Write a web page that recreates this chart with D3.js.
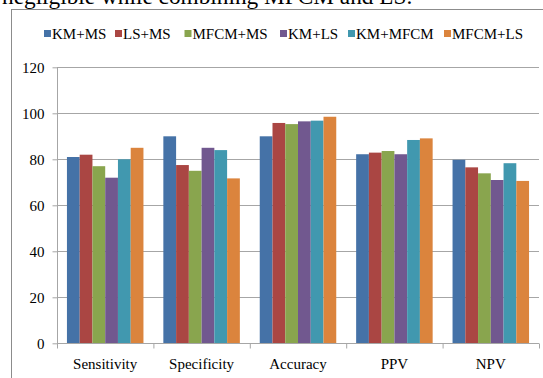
<!DOCTYPE html>
<html>
<head>
<meta charset="utf-8">
<script src="https://cdn.jsdelivr.net/npm/d3@7"></script>
<style>
  body { margin: 0; background: #fff; }
  text { font-family: "Liberation Serif", "Times New Roman", serif; fill: #000; }
</style>
</head>
<body>
<script>
// measures on the x axis, one group of bars each
const categories = ["Sensitivity", "Specificity", "Accuracy", "PPV", "NPV"];
const seriesNames = ["KM+MS", "LS+MS", "MFCM+MS", "KM+LS", "KM+MFCM", "MFCM+LS"];
const colors = ["#4572A7", "#AA4643", "#89A54E", "#71588F", "#4198AF", "#DB843D"];

// values, one array per series
const kmMs     = [81, 90, 90, 82.2, 79.8];
const lsMs     = [82, 77.5, 95.8, 82.9, 76.5];
const mfcmMs   = [77, 75, 95.3, 83.6, 73.9];
const kmLs     = [72, 85, 96.5, 82.2, 71];
const kmMfcm   = [80, 84, 96.8, 88.4, 78.3];
const mfcmLs   = [85, 71.7, 98.5, 89.1, 70.6];
const yTicks = [0, 20, 40, 60, 80, 100, 120];

const allSeries = [kmMs, lsMs, mfcmMs, kmLs, kmMfcm, mfcmLs];

let w = 543;
let h = 378;

const svg = d3.select("body")
  .append("svg")
  .attr("width", w)
  .attr("height", h);

// caption text cut off by the top of the picture
svg.append("text")
  .attr("x", 2)
  .attr("y", 4)
  .style("font-size", "23.3px")
  .text("negligible while combining MFCM and LS.");

// chart frame (right and bottom edges fall outside the picture)
svg.append("rect")
  .attr("x", 11.5)
  .attr("y", 9.5)
  .attr("width", 540)
  .attr("height", 380)
  .attr("fill", "none")
  .attr("stroke", "#8c8c8c");

const x0 = d3.scaleBand()
  .domain(categories)
  .range([57, 539]);

const x1 = d3.scaleBand()
  .domain(seriesNames)
  .range([0, x0.bandwidth()])
  .paddingOuter(0.78);

const yScale = d3.scaleLinear()
  .domain([0, 120])
  .range([343.3, 67.3]);

// gridlines
svg.append("g")
  .selectAll("line")
  .data(yTicks.slice(1))
  .enter()
  .append("line")
  .attr("x1", 57)
  .attr("x2", 539)
  .attr("y1", d => Math.round(yScale(d)) + 0.5)
  .attr("y2", d => Math.round(yScale(d)) + 0.5)
  .attr("stroke", "#a6a6a6");

// bars
svg.append("g")
  .selectAll("g")
  .data(allSeries)
  .enter()
  .append("g")
  .attr("fill", (d, i) => colors[i])
  .each(function (vals, si) {
    d3.select(this).selectAll("rect")
      .data(vals)
      .enter()
      .append("rect")
      .attr("x", (d, ci) => x0(categories[ci]) + x1(seriesNames[si]))
      .attr("width", x1.bandwidth())
      .attr("y", d => yScale(d))
      .attr("height", d => yScale(0) - yScale(d));
  });

// y axis
const yAxis = d3.axisLeft(yScale)
  .tickValues(yTicks)
  .tickSize(5)
  .tickPadding(8);

const gy = svg.append("g")
  .attr("transform", "translate(57.5,0)")
  .call(yAxis);
gy.selectAll("line, path").attr("stroke", "#a6a6a6");
gy.select(".domain").attr("d", "M0," + yScale(120) + "V" + yScale(0));
gy.selectAll("text")
  .style("font-family", "Liberation Serif, serif")
  .style("font-size", "15px");

// x axis
const xAxis = d3.axisBottom(d3.scaleLinear().domain([0, 5]).range([57, 539]))
  .tickValues([0, 1, 2, 3, 4, 5])
  .tickSize(5)
  .tickFormat("");

const gx = svg.append("g")
  .attr("transform", "translate(0," + (Math.round(yScale(0)) + 0.5) + ")")
  .call(xAxis);
gx.selectAll("line, path").attr("stroke", "#a6a6a6");
gx.select(".domain").attr("d", "M57,0H539");

svg.append("g")
  .selectAll("text")
  .data(categories)
  .enter()
  .append("text")
  .attr("x", d => x0(d) + x0.bandwidth() / 2)
  .attr("y", 369)
  .attr("text-anchor", "middle")
  .style("font-size", "15px")
  .text(d => d);

// legend
const legendX = [44, 115, 184.5, 280, 348, 444];
const legend = svg.append("g")
  .selectAll("g")
  .data(seriesNames)
  .enter()
  .append("g")
  .attr("transform", (d, i) => "translate(" + legendX[i] + ",30)");

legend.append("rect")
  .attr("width", 7)
  .attr("height", 7)
  .attr("fill", (d, i) => colors[i]);

legend.append("text")
  .attr("x", 8)
  .attr("y", 8.5)
  .style("font-size", "15px")
  .text(d => d);
</script>
</body>
</html>
